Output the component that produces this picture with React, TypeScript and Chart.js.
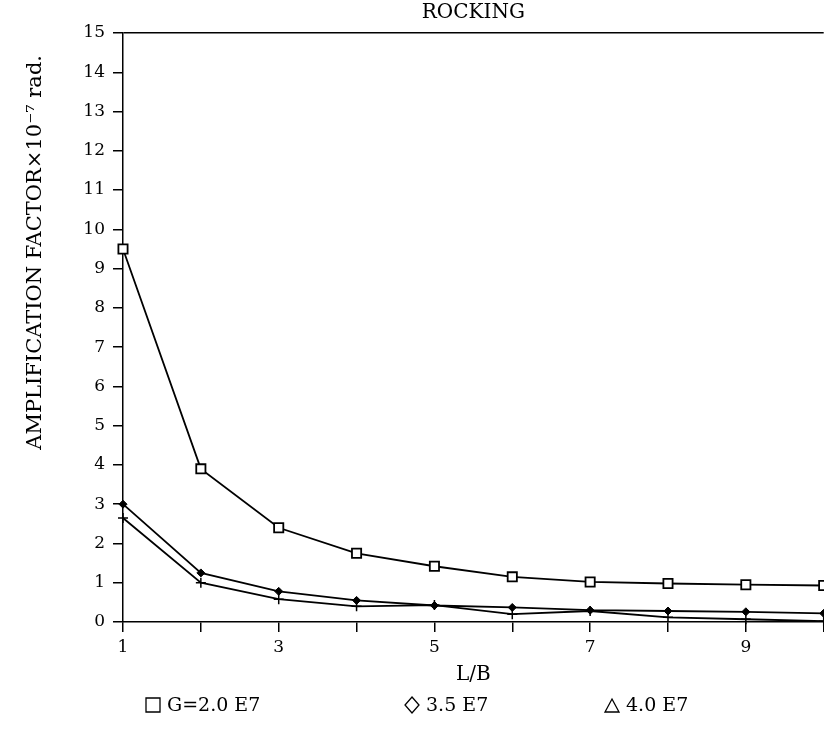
import React, { useEffect, useRef } from 'react';
import { Chart, registerables } from 'chart.js';

Chart.register(...registerables);

// ---- data ----
const LB_VALUES = [1, 2, 3, 4, 5, 6, 7, 8, 9, 10];
const G_20 = [9.5, 3.9, 2.4, 1.75, 1.42, 1.15, 1.02, 0.98, 0.95, 0.93];
const G_35 = [3.0, 1.25, 0.78, 0.55, 0.42, 0.37, 0.3, 0.28, 0.26, 0.22];
const G_40 = [2.65, 1.0, 0.58, 0.4, 0.43, 0.2, 0.28, 0.12, 0.07, 0.02];
const X_LABELED_TICKS = [1, 3, 5, 7, 9];
const SERIES_LABELS = ['G=2.0 E7', '3.5 E7', '4.0 E7'];
const TITLE = 'ROCKING';
const X_TITLE = 'L/B';
const Y_TITLE = 'AMPLIFICATION FACTOR\u00d710\u207b\u2077 rad.';

// ---- layout / style ----
const FONT = '"DejaVu Serif", serif';
const LEGEND_X = [146, 405, 605];
const LEGEND_SHAPES = ['square', 'diamond', 'triangle'];
const Y_TITLE_X = 36;
const Y_TITLE_TOP_GAP = 22;

const toPoints = (ys: number[]) => LB_VALUES.map((x, i) => ({ x, y: ys[i] }));

const spacedLegend = {
  id: 'spacedLegend',
  afterDraw(chart: any) {
    const ctx = chart.ctx as CanvasRenderingContext2D;
    const y = chart.height - 26;
    const s = 14;
    ctx.save();
    ctx.strokeStyle = '#000';
    ctx.fillStyle = '#000';
    ctx.lineWidth = 1.3;
    ctx.font = `19px ${FONT}`;
    ctx.textBaseline = 'middle';
    ctx.textAlign = 'left';
    chart.data.datasets.forEach((ds: any, i: number) => {
      const x0 = LEGEND_X[i];
      ctx.beginPath();
      const shape = LEGEND_SHAPES[i];
      if (shape === 'square') {
        ctx.rect(x0, y - s / 2, s, s);
      } else if (shape === 'diamond') {
        ctx.moveTo(x0 + s / 2, y - s / 2 - 1);
        ctx.lineTo(x0 + s, y);
        ctx.lineTo(x0 + s / 2, y + s / 2 + 1);
        ctx.lineTo(x0, y);
        ctx.closePath();
      } else {
        ctx.moveTo(x0 + s / 2, y - s / 2 + 1);
        ctx.lineTo(x0 + s, y + s / 2);
        ctx.lineTo(x0, y + s / 2);
        ctx.closePath();
      }
      ctx.stroke();
      ctx.fillText(ds.label, x0 + s + 7, y + 1);
    });
    ctx.restore();
  },
};

const yAxisTitle = {
  id: 'yAxisTitle',
  afterDraw(chart: any) {
    const ctx = chart.ctx as CanvasRenderingContext2D;
    const top = chart.chartArea.top + Y_TITLE_TOP_GAP;
    ctx.save();
    ctx.translate(Y_TITLE_X, top);
    ctx.rotate(-Math.PI / 2);
    ctx.fillStyle = '#000';
    ctx.font = `21px ${FONT}`;
    ctx.textAlign = 'right';
    ctx.textBaseline = 'middle';
    ctx.fillText(Y_TITLE, 0, 0);
    ctx.restore();
  },
};

export default function App() {
  const ref = useRef<HTMLCanvasElement | null>(null);

  useEffect(() => {
    if (!ref.current) return;
    const common = {
      borderColor: '#000',
      borderWidth: 1.8,
      pointBorderColor: '#000',
      tension: 0,
      clip: false as any,
    };
    const chart = new Chart(ref.current, {
      type: 'line',
      data: {
        datasets: [
          {
            ...common,
            label: SERIES_LABELS[0],
            data: toPoints(G_20),
            pointStyle: 'rect',
            pointRadius: 6.5,
            pointBackgroundColor: '#fff',
            pointBorderWidth: 1.8,
          },
          {
            ...common,
            label: SERIES_LABELS[1],
            data: toPoints(G_35),
            pointStyle: 'rectRot',
            pointRadius: 4,
            pointBackgroundColor: '#000',
            pointBorderWidth: 1,
          },
          {
            ...common,
            label: SERIES_LABELS[2],
            data: toPoints(G_40),
            pointStyle: 'cross',
            pointRadius: 5,
            pointBackgroundColor: '#000',
            pointBorderWidth: 1.5,
          },
        ],
      },
      options: {
        responsive: false,
        animation: false,
        layout: { padding: { left: 0, right: 6, top: 0, bottom: 41 } },
        plugins: {
          legend: { display: false },
          tooltip: { enabled: false },
          title: {
            display: true,
            fullSize: false,
            text: TITLE,
            color: '#000',
            font: { family: FONT, size: 20, weight: 'normal' },
            padding: { top: 1, bottom: 8 },
          },
        },
        scales: {
          x: {
            type: 'linear',
            min: 1,
            max: 10,
            afterFit: (s: any) => {
              s.height = 68;
            },
            ticks: {
              stepSize: 1,
              autoSkip: false,
              maxRotation: 0,
              color: '#000',
              padding: 5,
              font: { family: FONT, size: 17 },
              callback: (v: any) => (X_LABELED_TICKS.includes(Number(v)) ? String(v) : ''),
            },
            grid: {
              drawOnChartArea: false,
              drawTicks: true,
              tickLength: 10,
              color: '#000',
              lineWidth: 1.5,
            },
            border: { color: '#000', width: 1.5 },
            title: {
              display: true,
              text: X_TITLE,
              color: '#000',
              font: { family: FONT, size: 20 },
              padding: { top: 0, bottom: 3 },
            },
          },
          y: {
            min: 0,
            max: 15,
            afterFit: (s: any) => {
              s.width = 123;
            },
            ticks: {
              stepSize: 1,
              color: '#000',
              padding: 8,
              font: { family: FONT, size: 17 },
            },
            grid: {
              drawOnChartArea: true,
              drawTicks: true,
              tickLength: 10,
              color: (c: any) => (c.tick && c.tick.value === 15 ? '#000' : 'rgba(0,0,0,0)'),
              tickColor: '#000',
              lineWidth: 1.5,
            },
            border: { color: '#000', width: 1.5 },
            title: { display: false },
          },
        },
      } as any,
      plugins: [spacedLegend, yAxisTitle],
    });
    return () => chart.destroy();
  }, []);

  return (
    <div
      style={{
        position: 'absolute',
        left: 0,
        top: 0,
        width: 824,
        height: 731,
        overflow: 'hidden',
        background: '#fff',
      }}
    >
      <canvas ref={ref} width={832} height={731} style={{ display: 'block' }} />
    </div>
  );
}
